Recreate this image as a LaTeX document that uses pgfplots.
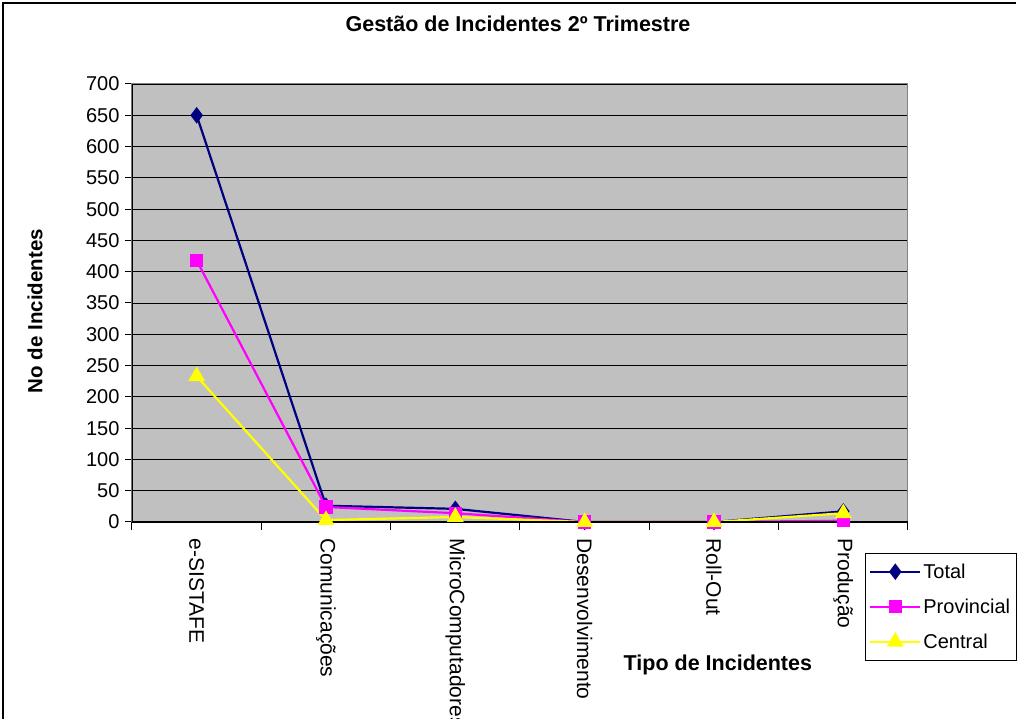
\documentclass[border=0pt]{standalone}
\usepackage{pgfplots}
\pgfplotsset{compat=1.18}
\usepackage{fontspec}
\setmainfont{Liberation Sans}
\definecolor{navyc}{RGB}{0,0,128}
\definecolor{magc}{RGB}{255,0,255}
\definecolor{yelc}{RGB}{255,255,0}
\definecolor{bggray}{RGB}{192,192,192}
\definecolor{bordgray}{RGB}{128,128,128}
\begin{document}
\begin{tikzpicture}
\path[use as bounding box] (0,0) rectangle (1018pt,719pt);
\draw[black, line width=1.2pt] (3pt,-20pt) -- (3pt,716pt) -- (1016pt,716pt);
\begin{axis}[
  at={(132pt,197pt)}, anchor=south west,
  scale only axis, width=776pt, height=438pt,
  xmin=-0.5, xmax=5.5, ymin=0, ymax=700,
  axis background/.style={fill=bggray},
  axis line style={draw=bordgray, line width=1pt},
  xtick={0,1,2,3,4,5},
  xticklabels={e-SISTAFE,Comunicações,MicroComputadores,Desenvolvimento,Roll-Out,Produção},
  minor xtick={-0.5,0.5,1.5,2.5,3.5,4.5,5.5},
  xtick pos=bottom, ytick pos=left,
  major x tick style={draw=none},
  minor x tick style={black, line width=1pt},
  minor tick length=8pt,
  ytick={0,50,...,700},
  major tick length=7pt,
  tick align=outside,
  ytick style={black, line width=1pt},
  ymajorgrids,
  major grid style={black, line width=0.9pt},
  y tick label style={font=\fontsize{20}{24}\selectfont, /pgf/number format/assume math mode=true, xshift=-2pt},
  x tick label style={font=\fontsize{21}{25}\selectfont, rotate=-90, anchor=west, xshift=6pt},
  title={\textbf{Gestão de Incidentes 2º Trimestre}},
  title style={at={(0.4974,1.1233)}, anchor=center, font=\fontsize{21.5}{25}\selectfont},
  xlabel={\textbf{Tipo de Incidentes}},
  xlabel style={at={(0.755,-0.3265)}, anchor=center, font=\fontsize{21.5}{25}\selectfont},
  ylabel={\textbf{No de Incidentes}},
  ylabel style={at={(-0.125,0.4817)}, anchor=center, font=\fontsize{20.5}{24}\selectfont},
  legend style={at={(0.9446,-0.0708)}, anchor=north west, draw=black,
    font=\fontsize{20}{24}\selectfont, row sep=15pt, inner xsep=4pt, inner ysep=8.5pt,
    nodes={inner sep=2pt}},
  legend cell align=left,
  legend image code/.code={\draw[mark repeat=2,mark phase=2,#1] plot coordinates {(0pt,0pt) (25pt,0pt) (50pt,0pt)};},
]
\addplot[navyc, line width=2.2pt, mark=diamond*, mark size=6.5pt, mark options={solid, fill=navyc}]
  coordinates {(0,650) (1,26) (2,21) (3,0) (4,0) (5,17)};
\addlegendentry{Total}
\addplot[magc, line width=2.2pt, mark=square*, mark size=5.5pt, mark options={solid, fill=magc}]
  coordinates {(0,418) (1,24) (2,14) (3,0) (4,0) (5,2)};
\addlegendentry{Provincial}
\addplot[yelc, line width=2.2pt, mark=triangle*, mark size=7.5pt, mark options={solid, fill=yelc}]
  coordinates {(0,233) (1,3) (2,8) (3,0) (4,0) (5,14)};
\addlegendentry{Central}
\draw[black, line width=1.2pt] (rel axis cs:0,1) -- (rel axis cs:0,0) -- (rel axis cs:1,0);
\end{axis}
\end{tikzpicture}
\end{document}
